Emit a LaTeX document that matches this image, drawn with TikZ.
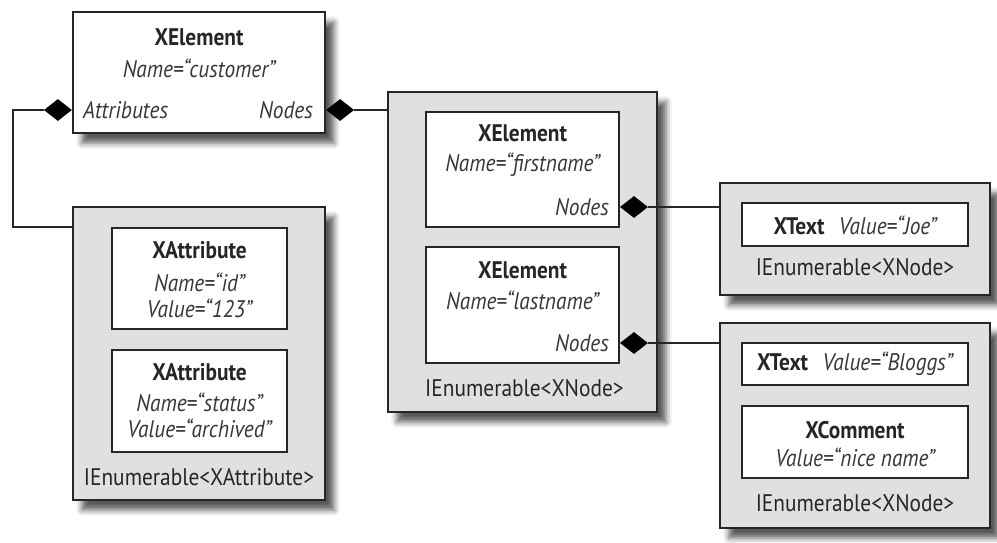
\documentclass[tikz,border=0pt]{standalone}
\usepackage{fontspec}
\setmainfont{PT Sans}[FakeStretch=0.89]
\usetikzlibrary{shadows.blur,shapes.geometric,calc}
\definecolor{ink}{HTML}{262626}
\definecolor{itink}{HTML}{383838}
\definecolor{grp}{HTML}{E0E0E0}
\newcommand{\dfont}{\fontsize{24}{27}\selectfont}
\tikzset{
  outerbox/.style={draw=ink, line width=1.8pt, fill=white, inner sep=0pt,
    blur shadow={shadow xshift=9pt, shadow yshift=-10pt, shadow blur radius=6pt, shadow opacity=65}},
  groupbox/.style={outerbox, fill=grp},
  innerbox/.style={draw=ink, line width=1.6pt, fill=white, inner sep=0pt},
  cls/.style={font=\dfont\bfseries, text=ink, inner sep=0pt},
  attr/.style={font=\dfont\itshape, text=itink, inner sep=0pt},
  enumlbl/.style={font=\dfont, text=ink, inner sep=0pt},
  comp/.style={diamond, fill=black, draw=none, minimum width=28pt, minimum height=22pt, inner sep=0pt},
  conn/.style={draw=ink, line width=1.6pt}
}
\begin{document}
\begin{tikzpicture}[x=1pt,y=-1pt]
\useasboundingbox (0,0) rectangle (997,542);
% boxes
\node[outerbox, minimum width=252pt, minimum height=121pt] (top) at (199,72.5) {};
\node[groupbox, minimum width=252pt, minimum height=293pt] (attrg) at (199,353.5) {};
\node[innerbox, minimum width=175pt, minimum height=101pt] (at1) at (199.5,278.5) {};
\node[innerbox, minimum width=175pt, minimum height=102pt] (at2) at (199.5,401) {};
\node[groupbox, minimum width=269pt, minimum height=320pt] (midg) at (522.5,252) {};
\node[innerbox, minimum width=193pt, minimum height=115pt] (el1) at (522.5,169.5) {};
\node[innerbox, minimum width=193pt, minimum height=116pt] (el2) at (522.5,305) {};
\node[groupbox, minimum width=270pt, minimum height=112pt] (r1g) at (855,239) {};
\node[innerbox, minimum width=226pt, minimum height=43pt] (tx1) at (855,224.5) {};
\node[groupbox, minimum width=270pt, minimum height=205pt] (r2g) at (855,425.5) {};
\node[innerbox, minimum width=226pt, minimum height=42pt] (tx2) at (855,364) {};
\node[innerbox, minimum width=226pt, minimum height=72pt] (cm) at (855,442) {};
% texts: top
\node[cls] (t1) at (199,37) {XElement};
\node[attr] (t2) at (199,68) {Name{=}“customer”};
\node[attr, anchor=west] (t3) at (83,110) {Attributes};
\node[attr, anchor=east] (t4) at (313,110) {Nodes};
% attributes
\node[cls] (a1) at (199.5,250) {XAttribute};
\node[attr] (a2) at (199.5,282) {Name{=}“id”};
\node[attr] (a3) at (199.5,308) {Value{=}“123”};
\node[cls] (a4) at (199.5,372) {XAttribute};
\node[attr] (a5) at (199.5,402) {Name{=}“status”};
\node[attr] (a6) at (199.5,428) {Value{=}“archived”};
\node[enumlbl] (a7) at (199,477) {IEnumerable<XAttribute>};
% middle
\node[cls] (m1) at (522.5,133) {XElement};
\node[attr] (m2) at (522.5,165) {Name{=}“firstname”};
\node[attr, anchor=east] (m3) at (609,207) {Nodes};
\node[cls] (m4) at (522.5,270) {XElement};
\node[attr] (m5) at (522.5,300) {Name{=}“lastname”};
\node[attr, anchor=east] (m6) at (609,343) {Nodes};
\node[enumlbl, anchor=west] (m7) at (425,388) {IEnumerable<XNode>};
% right
\node (r1) at (855,225) {\dfont\color{ink}\textbf{XText}\hspace{0.6em}{\color{itink}\itshape Value{=}“Joe”}};
\node[enumlbl] (r2) at (855,267) {IEnumerable<XNode>};
\node (r3) at (855,364) {\dfont\color{ink}\textbf{XText}\hspace{0.6em}{\color{itink}\itshape Value{=}“Bloggs”}};
\node[cls] (r4) at (855,430) {XComment};
\node[attr] (r5) at (855,457) {Value{=}“nice name”};
\node[enumlbl] (r6) at (855,503) {IEnumerable<XNode>};
% composition diamonds
\node[comp, anchor=east] (dA) at (top.west |- 0,110) {};
\node[comp, anchor=west] (dN) at (top.east |- 0,110) {};
\node[comp, anchor=west] (d1) at (el1.east |- 0,207) {};
\node[comp, anchor=west] (d2) at (el2.east |- 0,343) {};
% connectors
\coordinate (bendA) at (13,110);
\draw[conn] (dA.west) -- (bendA) |- ($(attrg.north west)+(0,21)$);
\draw[conn] (dN.east) -- (midg.west |- dN.east);
\draw[conn] (d1.east) -- (r1g.west |- d1.east);
\draw[conn] (d2.east) -- (r2g.west |- d2.east);
\end{tikzpicture}
\end{document}
